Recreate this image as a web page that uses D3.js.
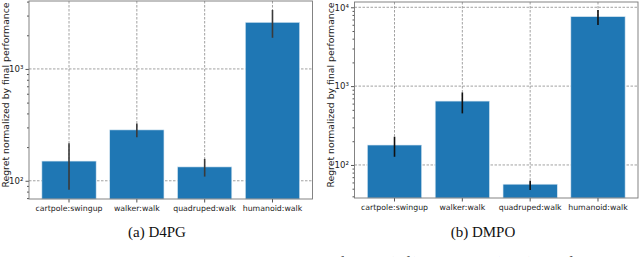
<!DOCTYPE html>
<html>
<head>
<meta charset="utf-8">
<script src="https://cdn.jsdelivr.net/npm/d3@7"></script>
<style>
  body { margin: 0; background: #fff; }
  svg { display: block; }
  .tick text { font-family: "DejaVu Sans", sans-serif; }
</style>
</head>
<body>
<div id="chart"></div>
<script>
// data
var categories = ["cartpole:swingup", "walker:walk", "quadruped:walk", "humanoid:walk"];

var d4pgMean = [150, 285, 133, 2610];
var d4pgLow  = [83, 245, 109, 1900];
var d4pgHigh = [217, 325, 157, 3370];

var dmpoMean = [179, 646, 57, 7610];
var dmpoLow  = [127, 451, 48, 5970];
var dmpoHigh = [228, 832, 63, 9250];

var yTicksD4pg = [100, 1000];
var yTicksDmpo = [100, 1000, 10000];

var width = 640, height = 257;

var svg = d3.select("#chart").append("svg")
  .attr("width", width)
  .attr("height", height);

var barColor = "#1f77b4";
var supDigits = {"2": "\u00b2", "3": "\u00b3", "4": "\u2074"};

function drawPanel(opts) {
  var x = d3.scaleBand()
    .domain(categories)
    .range([opts.left, opts.right])
    .paddingInner(0.2)
    .paddingOuter(0.19);

  var y = d3.scaleLog()
    .domain(opts.domain)
    .range([opts.bottom, opts.top]);

  var g = svg.append("g");

  // grid lines (major only)
  g.selectAll(".ygrid")
    .data(opts.yTicks)
    .enter().append("line")
      .attr("x1", opts.left).attr("x2", opts.right)
      .attr("y1", d => y(d)).attr("y2", d => y(d))
      .attr("stroke", "#8a8a8a")
      .attr("stroke-width", 0.8)
      .style("stroke-dasharray", "2.5,1.5");

  g.selectAll(".xgrid")
    .data(categories)
    .enter().append("line")
      .attr("x1", d => x(d) + x.bandwidth() / 2)
      .attr("x2", d => x(d) + x.bandwidth() / 2)
      .attr("y1", opts.top).attr("y2", opts.bottom)
      .attr("stroke", "#8a8a8a")
      .attr("stroke-width", 0.8)
      .style("stroke-dasharray", "2.5,1.5");

  // bars
  g.selectAll(".bar")
    .data(opts.mean)
    .enter().append("rect")
      .attr("x", (d, i) => x(categories[i]))
      .attr("width", x.bandwidth())
      .attr("y", d => y(d))
      .attr("height", d => opts.bottom - y(d))
      .attr("fill", barColor)
      .attr("stroke", "#d6e6f2")
      .attr("stroke-width", 0.6);

  // error bars
  g.selectAll(".err")
    .data(opts.mean)
    .enter().append("line")
      .attr("x1", (d, i) => x(categories[i]) + x.bandwidth() / 2)
      .attr("x2", (d, i) => x(categories[i]) + x.bandwidth() / 2)
      .attr("y1", (d, i) => y(opts.low[i]))
      .attr("y2", (d, i) => y(opts.high[i]))
      .attr("stroke", opts.errColor)
      .attr("stroke-width", 1.6);

  // y axis with log minor ticks
  var yAxis = d3.axisLeft(y)
    .tickValues(opts.yTicks)
    .tickSize(3.5)
    .tickPadding(2)
    .tickFormat(d => "10" + supDigits[String(Math.round(Math.log10(d)))]);
  var ya = g.append("g")
    .attr("transform", "translate(" + opts.left + ",0)")
    .call(yAxis);
  ya.select(".domain").remove();
  ya.selectAll("text").style("font-size", "8.6px").attr("fill", "#222");
  ya.selectAll("line").attr("stroke", "#555");

  var minor = y.ticks().filter(d => opts.yTicks.indexOf(d) < 0);
  var ym = g.append("g")
    .attr("transform", "translate(" + opts.left + ",0)")
    .call(d3.axisLeft(y).tickValues(minor).tickSize(2).tickFormat(""));
  ym.select(".domain").remove();
  ym.selectAll("line").attr("stroke", "#555");

  // x axis
  var xa = g.append("g")
    .attr("transform", "translate(0," + opts.bottom + ")")
    .call(d3.axisBottom(x).tickSize(3.5).tickPadding(2.5));
  xa.select(".domain").remove();
  xa.selectAll("text").style("font-size", "7.8px").attr("fill", "#222");
  xa.selectAll("line").attr("stroke", "#555");

  // frame
  g.append("rect")
    .attr("x", opts.left).attr("y", opts.top)
    .attr("width", opts.right - opts.left)
    .attr("height", opts.bottom - opts.top)
    .attr("fill", "none")
    .attr("stroke", "#777")
    .attr("stroke-width", 0.9);

  // y label
  g.append("text")
    .attr("transform", "translate(" + opts.labelX + "," + ((opts.top + opts.bottom) / 2 - 5) + ") rotate(-90)")
    .attr("text-anchor", "middle")
    .attr("dy", "0.35em")
    .style("font-family", "DejaVu Sans, sans-serif")
    .style("font-size", "9.3px")
    .attr("fill", "#222")
    .text("Regret normalized by final performance");

  // sub caption
  g.append("text")
    .attr("x", opts.captionX)
    .attr("y", 236.5)
    .attr("text-anchor", "middle")
    .style("font-family", "Liberation Serif, serif")
    .style("font-size", "15px")
    .attr("fill", "#111")
    .text(opts.caption);
}

drawPanel({
  left: 29, right: 312.5, top: 1, bottom: 199,
  domain: [68.7, 4050],
  yTicks: yTicksD4pg,
  mean: d4pgMean, low: d4pgLow, high: d4pgHigh,
  errColor: "#3a3a3a",
  labelX: 6, captionX: 157, caption: "(a) D4PG"
});

drawPanel({
  left: 354.5, right: 638, top: 2, bottom: 198,
  domain: [38.1, 11670],
  yTicks: yTicksDmpo,
  mean: dmpoMean, low: dmpoLow, high: dmpoHigh,
  errColor: "#111",
  labelX: 331, captionX: 483, caption: "(b) DMPO"
});

// figure caption, mostly cut off by the bottom edge
svg.append("text")
  .attr("x", 20)
  .attr("y", 267)
  .style("font-family", "Liberation Serif, serif")
  .style("font-size", "15px")
  .attr("fill", "#111")
  .text("Figure 3: Normalized regret and standard deviation of D4PG (left) and DMPO (right) with full results.");
</script>
</body>
</html>
